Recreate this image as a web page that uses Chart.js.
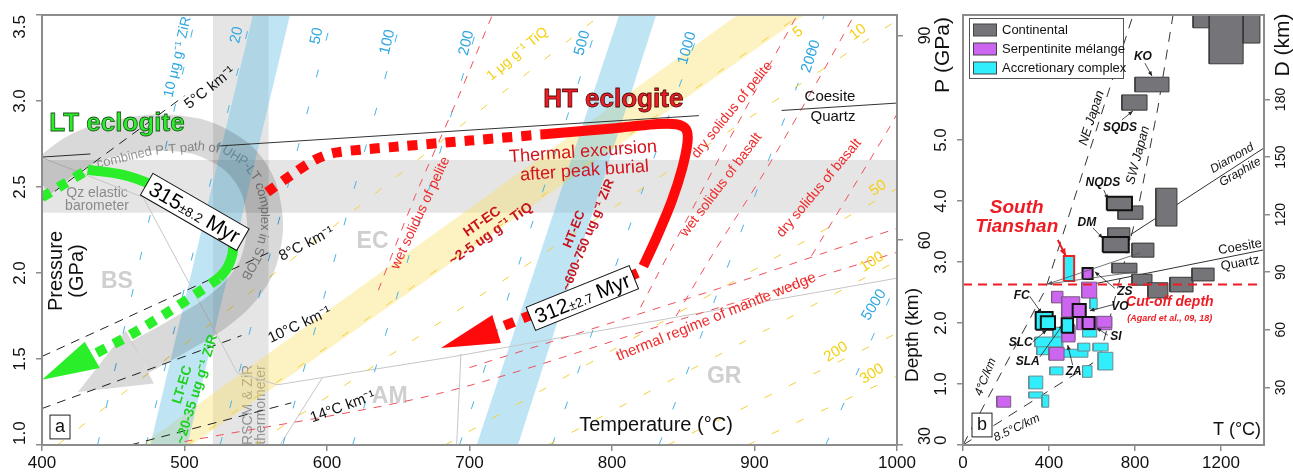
<!DOCTYPE html>
<html><head><meta charset="utf-8">
<script src="https://cdn.jsdelivr.net/npm/chart.js@4.4.1/dist/chart.umd.min.js"></script>
<style>
html,body{margin:0;padding:0;background:#fff;}
#wrap{position:relative;width:1293px;height:475px;overflow:hidden;background:#fff;}
canvas{position:absolute;left:0;top:0;}
</style></head>
<body><div id="wrap"><canvas id="ca" width="1293" height="475"></canvas><canvas id="cb" width="1293" height="475"></canvas></div>
<script>
const FONT = '"Liberation Sans", Arial, Helvetica, sans-serif';

// ================= DATA : panel a =================
const tempTicksA = [400, 500, 600, 700, 800, 900, 1000];
const pressTicksA = [1.0, 1.5, 2.0, 2.5, 3.0, 3.5];
const depthTicksA = [30, 60, 90];

const qzBaroBand = [[400, 2.35], [1000, 2.35], [1000, 2.657], [400, 2.657]];
const rscmBand = [[520, 1.0], [559, 1.0], [559, 3.5], [520, 3.5]];
const zirBandLT = [[476, 1.0], [502, 1.0], [574, 3.5], [548, 3.5]];
const zirBandHT = [[705, 1.0], [734, 1.0], [831, 3.5], [805, 3.5]];
const tiqBandHT = [[470, 1.0], [505, 1.0], [935, 3.5], [888, 3.5]];

const zirLevels = [10, 20, 50, 100, 200, 500, 1000, 2000, 5000];
const zirTat1GPa = [439, 473, 525, 569, 618, 693, 758, 833, 950];
const zirTat35GPa = [508, 547, 604, 653, 708, 792, 865, 949, 1081];

const tiqLevels = [1, 5, 10, 50, 100, 200, 300];
const tiqFrom = [[411, 1.0], [502, 1.0], [549, 1.0], [683, 1.0], [755, 1.0], [839, 1.0], [895, 1.0]];
const tiqTo = [[792, 3.5], [932, 3.5], [1000, 3.47], [1000, 2.49], [1000, 2.07], [1000, 1.65], [1000, 1.40]];

const geothermRates = [5, 8, 10, 14];
const geothermFrom = [[400, 2.42], [400, 1.515], [400, 1.212], [462, 1.0]];
const geothermTo = [[500, 3.03], [563, 2.133], [540, 1.636], [575, 1.245]];

const coesiteQuartzA = [[[400, 2.674], [434, 2.692]], [[525, 2.739], [861, 2.915]], [[919, 2.945], [1000, 2.988]]];
const faciesBoundaries = [
  [[400, 2.67], [471, 2.44], [537, 1.42]],
  [[537, 1.42], [565, 1.35], [686, 1.51], [1000, 1.97]],
  [[597, 1.395], [567, 1.0]],
  [[694, 1.53], [691, 1.0]]
];
const wetPeliteSolidus = [[636, 1.9], [662, 2.45], [691, 3.0], [716, 3.5]];
const dryPeliteSolidus = [[820, 1.8], [832, 1.99], [898, 3.02], [930, 3.5]];
const wetBasaltSolidus = [[845, 1.75], [870, 2.1], [908, 2.6], [950, 3.2], [970, 3.5]];
const dryBasaltSolidus = [[940, 2.1], [995, 2.85], [1005, 3.0]];
const mantleWedgeLow = [[500, 1.02], [679, 1.30], [852, 1.74], [1000, 2.12]];
const mantleWedgeHigh = [[700, 1.45], [875, 1.91], [950, 2.12], [1000, 2.26]];

const uhpCombinedPath = [[398, 2.54], [426.6, 2.715], [461.7, 2.80], [496.7, 2.81], [524.7, 2.74], [545.8, 2.59], [555.6, 2.37], [554.2, 2.13], [544.4, 1.95], [524.7, 1.785], [496.7, 1.64], [468.7, 1.51]];
const uhpCombinedHead = [[478.5, 1.357], [458.9, 1.666], [425.2, 1.308]];

const ltProgradeDotted = [[400, 2.44], [416, 2.52], [432, 2.60]];
const ltPeakSolid = [[432, 2.60], [457, 2.57], [478, 2.51], [500, 2.43], [520, 2.33], [532, 2.22], [534, 2.13], [530, 2.03], [524, 1.97]];
const ltRetroDotted = [[524, 1.97], [512, 1.90], [488, 1.77], [462, 1.64], [436, 1.525]];
const ltArrowHead = [[430, 1.60], [440.6, 1.448], [400, 1.38]];

const htProgradeDotted = [[558, 2.47], [575, 2.57], [592, 2.66], [606, 2.70], [650, 2.735], [700, 2.77], [750, 2.805]];
const htExcursionSolid = [[750, 2.805], [800, 2.84], [830, 2.865], [845, 2.865], [852, 2.835], [853, 2.76], [849, 2.6], [842, 2.42], [832, 2.22], [822, 2.04]];
const htRetroDotted = [[818, 2.0], [790, 1.90], [760, 1.81], [740, 1.745], [719, 1.675]];
const htArrowHead = [[716, 1.756], [722, 1.593], [680, 1.564]];

// ================= DATA : panel b =================
const tempTicksB = [0, 400, 800, 1200];
const pressTicksB = [0, 1, 2, 3, 4, 5];
const depthTicksB = [30, 60, 90, 120, 150, 180];

const continentalBoxes = [
  [800, 958, 5.79, 6.03], [739, 856, 5.49, 5.74], [721, 837, 3.70, 3.92], [669, 786, 3.85, 4.07],
  [897, 995, 3.59, 4.21], [1070, 1205, 6.84, 7.05], [1145, 1303, 6.25, 7.05], [1303, 1381, 6.59, 7.05],
  [673, 776, 3.36, 3.56], [786, 888, 3.08, 3.31], [650, 771, 3.16, 3.41], [693, 809, 2.82, 2.98],
  [786, 879, 2.62, 2.80], [860, 953, 2.41, 2.66], [962, 1070, 2.51, 2.75], [1065, 1168, 2.69, 2.90]
];
const continentalOutlined = [3, 10];
const serpentiniteBoxes = [
  [552, 622, 2.41, 2.67], [412, 465, 2.33, 2.52], [459, 543, 2.10, 2.43], [530, 692, 1.89, 2.10],
  [622, 692, 1.93, 2.11], [459, 521, 1.69, 1.97], [400, 470, 1.39, 1.60], [157, 222, 0.62, 0.80],
  [556, 603, 2.72, 2.90], [510, 571, 2.10, 2.31], [556, 612, 1.90, 2.10]
];
const serpentiniteOutlined = [8, 9, 10];
const accretionaryBoxes = [
  [590, 624, 2.23, 2.41], [556, 622, 1.77, 1.93], [343, 465, 1.48, 1.72], [418, 521, 1.72, 1.93],
  [464, 581, 1.44, 1.57], [534, 590, 1.54, 1.67], [605, 675, 1.54, 1.67], [628, 697, 1.23, 1.52],
  [404, 465, 1.15, 1.28], [556, 600, 1.11, 1.30], [306, 371, 0.92, 1.13], [306, 371, 0.77, 0.87],
  [367, 399, 0.62, 0.82], [334, 459, 1.61, 1.77], [338, 417, 1.89, 2.18], [362, 428, 1.90, 2.11],
  [459, 512, 1.84, 2.08], [469, 517, 2.69, 3.10]
];
const accretionaryOutlined = [14, 15, 16];
const southTianshanIndex = 17;

const neJapanGeotherm = [[0, 0], [382, 2.54], [791, 7.05]];
const swJapanGeotherm = [[0, 0], [633, 1.41], [762, 3.15], [810, 3.8], [907, 5.54], [977, 7.05]];
const diamondGraphiteB = [[780, 3.45], [1400, 4.87]];
const coesiteQuartzB = [[620, 2.65], [1400, 3.2]];
const cutoffDepth = [[0, 2.63], [1400, 2.63]];
const pointerLinesB = [[[823, 3.15], [394, 2.64]], [[809, 2.84], [394, 2.64]]];
const labelArrowsB = [
  [[846, 6.26], [879, 6.05]], [[739, 5.33], [790, 5.475]], [[655, 4.18], [674, 4.03]], [[604, 3.56], [650, 3.39]],
  [[706, 2.57], [613, 2.84]], [[697, 2.30], [590, 2.20]], [[674, 1.80], [622, 1.92]], [[310, 2.44], [366, 2.16]],
  [[324, 1.69], [389, 1.885]], [[357, 1.44], [464, 1.97]], [[510, 1.31], [487, 1.64]]
];
const tianshanArrow = [[441, 3.36], [478, 3.10]];

// ================= helpers =================
const P = a => a.map(([x, y]) => ({x, y}));
function lineDS(arr, color, width, dash, extra) {
  return Object.assign({data: P(arr), borderColor: color, borderWidth: width, borderDash: dash || [],
    pointRadius: 0, pointHoverRadius: 0, fill: false, clip: 0, tension: 0, borderCapStyle: 'butt', borderJoinStyle: 'round'}, extra || {});
}
function polyDS(arr, bg, bc, bw) {
  return {data: P(arr.concat([arr[0]])), backgroundColor: bg, borderColor: bc || 'rgba(0,0,0,0)', borderWidth: bw || 0,
    pointRadius: 0, pointHoverRadius: 0, fill: 'shape', clip: 0, tension: 0, borderJoinStyle: 'miter'};
}
function boxPoly(b) { return [[b[0], b[2]], [b[1], b[2]], [b[1], b[3]], [b[0], b[3]]]; }
function ordered(list) { list.forEach((d, i) => d.order = -i); return list; }

function axisCfg(min, max, ticks, pos, size) {
  return {
    type: 'linear', min, max, position: pos,
    afterBuildTicks: ax => { ax.ticks = ticks.map(v => ({value: v})); },
    afterFit: ax => { if (pos === 'bottom') ax.height = size; else ax.width = size; },
    ticks: {display: false},
    grid: {drawOnChartArea: false, drawTicks: true, tickLength: 6, color: '#8c8c8c', lineWidth: 1.5},
    border: {display: true, color: '#8c8c8c', width: 2}
  };
}

function drawText(ctx, a, x, y) {
  ctx.save();
  ctx.translate(x, y);
  if (a.rot) ctx.rotate(a.rot * Math.PI / 180);
  ctx.font = (a.w ? a.w + ' ' : '') + a.s + 'px ' + FONT;
  ctx.textAlign = a.align || 'center';
  ctx.textBaseline = 'middle';
  const lines = a.t.split('\n');
  const lh = a.lh || a.s * 1.1;
  if (a.box) {
    const wmax = Math.max(...lines.map(l => ctx.measureText(l).width));
    const bw = Math.max(wmax + 8, a.box), bh = lines.length * lh + 4;
    ctx.fillStyle = '#fff'; ctx.fillRect(-bw / 2, -bh / 2, bw, bh);
    ctx.strokeStyle = '#222'; ctx.lineWidth = 1; ctx.strokeRect(-bw / 2, -bh / 2, bw, bh);
  }
  lines.forEach((ln, i) => {
    const yy = (i - (lines.length - 1) / 2) * lh;
    ctx.fillStyle = a.c || '#000';
    ctx.fillText(ln, 0, yy);
    if (a.stroke) { ctx.lineWidth = a.sw || 1; ctx.strokeStyle = a.stroke; ctx.strokeText(ln, 0, yy); }
  });
  ctx.restore();
}
function drawAge(ctx, a, x, y) {
  ctx.save();
  ctx.translate(x, y);
  ctx.rotate(a.rot * Math.PI / 180);
  let W = 0;
  const ws = a.parts.map(([t, s]) => { ctx.font = s + 'px ' + FONT; const w = ctx.measureText(t).width; W += w; return w; });
  const H = 25, pad = 5;
  ctx.fillStyle = '#fff'; ctx.fillRect(-W / 2 - pad, -H / 2, W + 2 * pad, H);
  ctx.strokeStyle = '#111'; ctx.lineWidth = 1; ctx.strokeRect(-W / 2 - pad, -H / 2, W + 2 * pad, H);
  ctx.fillStyle = '#000'; ctx.textAlign = 'left'; ctx.textBaseline = 'alphabetic';
  let cx = -W / 2;
  a.parts.forEach(([t, s], i) => { ctx.font = s + 'px ' + FONT; ctx.fillText(t, cx, 7.5); cx += ws[i]; });
  ctx.restore();
}
function drawPathText(ctx, chart, a) {
  const sx = chart.scales.x, sy = chart.scales.y;
  const pts = a.pts.map(([x, y]) => [sx.getPixelForValue(x), sy.getPixelForValue(y)]);
  const segs = []; let tot = 0;
  for (let i = 1; i < pts.length; i++) {
    const dx = pts[i][0] - pts[i - 1][0], dy = pts[i][1] - pts[i - 1][1], L = Math.hypot(dx, dy);
    segs.push({x0: pts[i - 1][0], y0: pts[i - 1][1], dx, dy, L, st: tot}); tot += L;
  }
  ctx.save();
  ctx.font = a.s + 'px ' + FONT; ctx.fillStyle = a.c; ctx.textAlign = 'center'; ctx.textBaseline = 'middle';
  let d = 0;
  for (const ch of a.t) {
    const w = ctx.measureText(ch).width, mid = d + w / 2;
    const s = segs.find(g => mid <= g.st + g.L) || segs[segs.length - 1];
    const t = (mid - s.st) / s.L;
    ctx.save();
    ctx.translate(s.x0 + s.dx * t, s.y0 + s.dy * t);
    ctx.rotate(Math.atan2(s.dy, s.dx));
    ctx.fillText(ch, 0, 0);
    ctx.restore();
    d += w;
  }
  ctx.restore();
}
function drawAnnotations(chart, items) {
  const ctx = chart.ctx, sx = chart.scales.x, sy = chart.scales.y;
  items.forEach(a => {
    if (a.type === 'path') { drawPathText(ctx, chart, a); return; }
    const x = a.px ? a.x : sx.getPixelForValue(a.x);
    const y = a.px ? a.y : sy.getPixelForValue(a.y);
    if (a.type === 'age') drawAge(ctx, a, x, y); else drawText(ctx, a, x, y);
  });
}
function drawTickLabels(chart, specs) {
  const ctx = chart.ctx, {top, bottom} = chart.chartArea;
  ctx.save(); ctx.fillStyle = '#111'; ctx.textAlign = 'center'; ctx.textBaseline = 'middle';
  specs.forEach(s => {
    const sc = chart.scales[s.axis];
    ctx.font = s.size + 'px ' + FONT;
    s.values.forEach(v => {
      const lab = s.fmt(v);
      let p = sc.getPixelForValue(v);
      const half = ctx.measureText(lab).width / 2;
      ctx.save();
      if (s.axis === 'x') { ctx.translate(p, s.pos); }
      else { p = Math.min(Math.max(p, top + half), bottom - half); ctx.translate(s.pos, p); ctx.rotate(-Math.PI / 2); }
      ctx.fillText(lab, 0, 0);
      ctx.restore();
    });
  });
  ctx.restore();
}
function frame(chart) {
  const ctx = chart.ctx, a = chart.chartArea;
  ctx.save(); ctx.strokeStyle = '#8c8c8c'; ctx.lineWidth = 2;
  ctx.strokeRect(a.left, a.top, a.right - a.left, a.bottom - a.top); ctx.restore();
}

// ================= panel a datasets =================
const blueDash = '#45b4e6', yellowDash = '#f2d03a', redDash = '#f0505a';
const dsA = [];
dsA.push(polyDS(qzBaroBand, 'rgba(0,0,0,0.10)'));
dsA.push(polyDS(rscmBand, 'rgba(0,0,0,0.10)'));
dsA.push(polyDS(tiqBandHT, 'rgba(250,222,95,0.38)'));
dsA.push(polyDS(zirBandLT, 'rgba(95,190,230,0.40)'));
dsA.push(polyDS(zirBandHT, 'rgba(95,190,230,0.40)'));
faciesBoundaries.forEach(l => dsA.push(lineDS(l, '#c6c6c6', 1)));
zirLevels.forEach((lv, i) => dsA.push(lineDS([[zirTat1GPa[i], 1.0], [zirTat35GPa[i], 3.5]], blueDash, 1, [8, 30])));
tiqLevels.forEach((lv, i) => dsA.push(lineDS([tiqFrom[i], tiqTo[i]], yellowDash, 1, [8, 19])));
geothermRates.forEach((g, i) => dsA.push(lineDS([geothermFrom[i], geothermTo[i]], '#222', 1, [9, 7])));
[wetPeliteSolidus, dryPeliteSolidus, wetBasaltSolidus, dryBasaltSolidus, mantleWedgeLow, mantleWedgeHigh]
  .forEach(l => dsA.push(lineDS(l, redDash, 1, [8, 8], {tension: 0.3})));
coesiteQuartzA.forEach(l => dsA.push(lineDS(l, '#333', 1)));
dsA.push(lineDS(uhpCombinedPath, 'rgba(0,0,0,0.15)', 36, [], {tension: 0.4}));
dsA.push(polyDS(uhpCombinedHead, 'rgba(0,0,0,0.15)'));
const green = '#2aee2a', red = '#ff0a0a';
dsA.push(lineDS(ltProgradeDotted, green, 10, [10, 9], {tension: 0.3}));
dsA.push(lineDS(ltPeakSolid, green, 10, [], {tension: 0.4}));
dsA.push(lineDS(ltRetroDotted, green, 10, [10, 9], {tension: 0.3}));
dsA.push(polyDS(ltArrowHead, green));
dsA.push(lineDS(htProgradeDotted, red, 10, [10, 9], {tension: 0.3}));
dsA.push(lineDS(htExcursionSolid, red, 10, [], {tension: 0.35}));
dsA.push(lineDS(htRetroDotted, red, 10, [10, 9], {tension: 0.3}));
dsA.push(polyDS(htArrowHead, red));
ordered(dsA);

const blueTxt = '#2ea6df', yelTxt = '#f5cf10', redTxt = '#ee2a2a', dkRed = '#c8141e';
const annA = [
  {t: 'BS', x: 452.6, y: 1.948, s: 23, w: 'bold', c: '#cfcfcf', layer: 'below'},
  {t: 'EC', x: 632, y: 2.18, s: 23, w: 'bold', c: '#cfcfcf', layer: 'below'},
  {t: 'AM', x: 644, y: 1.279, s: 23, w: 'bold', c: '#cfcfcf', layer: 'below'},
  {t: 'GR', x: 878.7, y: 1.395, s: 23, w: 'bold', c: '#cfcfcf', layer: 'below'},
  {t: 'Qz elastic\nbarometer', x: 438.6, y: 2.424, s: 14, c: '#9a9a9a', lh: 13, layer: 'below'},
  {t: 'RSCM & ZiR\nthermometer', x: 549.3, y: 1.233, s: 14, c: '#a3a3a3', rot: -90, lh: 13, layer: 'below'},
  {type: 'path', t: 'combined P-T path of UHP-LT complex in STOB', s: 13, c: '#9a9a9a', layer: 'below',
   pts: [[438.6, 2.63], [475.7, 2.705], [510.7, 2.735], [528.3, 2.715], [542.3, 2.645], [551.4, 2.541], [556.3, 2.395], [556.3, 2.25], [551.4, 2.105], [542.3, 1.971]]},
  {t: '10 μg g⁻¹ ZiR', x: 495.3, y: 3.256, s: 14, c: blueTxt, rot: -77},
  {t: '20', x: 536.7, y: 3.384, s: 15, c: blueTxt, rot: -77},
  {t: '50', x: 592.8, y: 3.378, s: 15, c: blueTxt, rot: -77},
  {t: '100', x: 642.5, y: 3.343, s: 15, c: blueTxt, rot: -76},
  {t: '200', x: 697.9, y: 3.337, s: 15, c: blueTxt, rot: -76},
  {t: '500', x: 779.2, y: 3.337, s: 15, c: blueTxt, rot: -75},
  {t: '1000', x: 852.8, y: 3.308, s: 15, c: blueTxt, rot: -74},
  {t: '2000', x: 939.7, y: 3.26, s: 15, c: blueTxt, rot: -72},
  {t: '5000', x: 983.9, y: 1.814, s: 15, c: blueTxt, rot: -58},
  {t: '1 μg g⁻¹ TiQ', x: 733.6, y: 3.273, s: 14, c: yelTxt, rot: -40},
  {t: '5', x: 930.6, y: 3.40, s: 15, c: yelTxt, rot: -38},
  {t: '10', x: 972.6, y: 3.40, s: 15, c: yelTxt, rot: -38},
  {t: '50', x: 986.7, y: 2.494, s: 15, c: yelTxt, rot: -35},
  {t: '100', x: 982.5, y: 2.064, s: 15, c: yelTxt, rot: -33},
  {t: '200', x: 957.2, y: 1.541, s: 15, c: yelTxt, rot: -33},
  {t: '300', x: 982.5, y: 1.413, s: 15, c: yelTxt, rot: -33},
  {t: '5°C km⁻¹', x: 517.8, y: 3.076, s: 15, c: '#111', rot: -38},
  {t: '8°C km⁻¹', x: 585.7, y: 2.169, s: 15, c: '#111', rot: -27},
  {t: '10°C km⁻¹', x: 580.8, y: 1.698, s: 15, c: '#111', rot: -25},
  {t: '14°C km⁻¹', x: 611, y: 1.221, s: 15, c: '#111', rot: -20},
  {t: 'LT-EC\n~20-35 ug g⁻¹ ZiR', x: 503.7, y: 1.337, s: 14, w: 'bold', c: '#22d022', rot: -73, lh: 15},
  {t: 'HT-EC\n~2-5 ug g⁻¹ TiQ', x: 711.9, y: 2.262, s: 14, w: 'bold', c: dkRed, rot: -35, lh: 15},
  {t: 'HT-EC\n~600-750 ug g⁻¹ ZiR', x: 778.5, y: 2.238, s: 13, w: 'bold', c: dkRed, rot: -68, lh: 15},
  {t: 'wet solidus of pelite', x: 665.6, y: 2.349, s: 14, c: redTxt, rot: -65},
  {t: 'dry solidus of pelite', x: 884.3, y: 2.948, s: 14, c: redTxt, rot: -51},
  {t: 'wet solidus of basalt', x: 876.6, y: 2.512, s: 14, c: redTxt, rot: -53},
  {t: 'dry solidus of basalt', x: 945.3, y: 2.494, s: 14, c: redTxt, rot: -50},
  {t: 'thermal regime of mantle wedge', x: 873.1, y: 1.744, s: 15, c: redTxt, rot: -22},
  {t: 'Coesite', x: 953, y: 3.023, s: 15, c: '#111'},
  {t: 'Quartz', x: 955.1, y: 2.907, s: 15, c: '#111'},
  {t: 'LT eclogite', x: 452.6, y: 2.866, s: 26, w: 'bold', c: green, stroke: '#1f4f1f', sw: 0.8},
  {t: 'HT eclogite', x: 800.9, y: 3.006, s: 26, w: 'bold', c: '#ee1c24', stroke: '#4a0a0a', sw: 0.8},
  {t: 'Thermal excursion\nafter peak burial', x: 780.2, y: 2.648, s: 18, c: '#d2141e', rot: -4, lh: 19},
  {type: 'age', x: 507.2, y: 2.355, rot: 30, parts: [['315', 21], ['±8.2', 13], [' Myr', 21]]},
  {type: 'age', x: 779.2, y: 1.855, rot: -22, parts: [['312', 21], ['±2.7', 13], [' Myr', 21]]},
  {t: 'Pressure', x: 56, y: 271, px: true, s: 20, c: '#111', rot: -90},
  {t: '(GPa)', x: 77, y: 271, px: true, s: 20, c: '#111', rot: -90},
  {t: 'Temperature (°C)', x: 656, y: 425, px: true, s: 20, c: '#111'},
  {t: 'a', x: 60, y: 427, px: true, s: 18, c: '#111', box: 20},
  {t: 'Depth (km)', x: 913, y: 335, px: true, s: 19, c: '#111', rot: -90}
];

const pluginA = {
  id: 'annA',
  beforeDatasetsDraw(chart) { drawAnnotations(chart, annA.filter(a => a.layer === 'below')); },
  afterDatasetsDraw(chart) { drawAnnotations(chart, annA.filter(a => a.layer !== 'below')); },
  afterDraw(chart) {
    frame(chart);
    drawTickLabels(chart, [
      {axis: 'x', values: tempTicksA, pos: 463, size: 17, fmt: v => String(v)},
      {axis: 'y', values: pressTicksA, pos: 20, size: 17, fmt: v => v.toFixed(1)},
      {axis: 'y2', values: depthTicksA, pos: 926, size: 16, fmt: v => String(v)}
    ]);
  }
};

new Chart(document.getElementById('ca'), {
  type: 'line',
  data: {datasets: dsA},
  options: {
    responsive: false, animation: false, devicePixelRatio: 1, events: [],
    layout: {padding: {left: 0, right: 358, top: 15, bottom: 0}},
    plugins: {legend: {display: false}, tooltip: {enabled: false}},
    scales: {
      x: axisCfg(400, 1000, tempTicksA, 'bottom', 30),
      y: axisCfg(1.0, 3.5, pressTicksA, 'left', 42),
      y2: axisCfg(30, 93, depthTicksA, 'right', 38)
    }
  },
  plugins: [pluginA]
});

// ================= panel b datasets =================
const contFill = '#747479', serpFill = '#cc66f0', accrFill = '#30eefc';
const dsB = [];
dsB.push(lineDS(neJapanGeotherm, '#333', 1, [10, 8]));
dsB.push(lineDS(swJapanGeotherm, '#333', 1, [10, 8]));
dsB.push(lineDS(diamondGraphiteB, '#333', 1));
dsB.push(lineDS(coesiteQuartzB, '#333', 1));
continentalBoxes.forEach((b, i) => { if (!continentalOutlined.includes(i)) dsB.push(polyDS(boxPoly(b), contFill, '#3a3a3a', 1)); });
continentalOutlined.forEach(i => dsB.push(polyDS(boxPoly(continentalBoxes[i]), contFill, '#111', 2)));
accretionaryBoxes.forEach((b, i) => { if (!accretionaryOutlined.includes(i) && i !== southTianshanIndex) dsB.push(polyDS(boxPoly(b), accrFill, '#6a8a90', 1)); });
serpentiniteBoxes.forEach((b, i) => { if (!serpentiniteOutlined.includes(i)) dsB.push(polyDS(boxPoly(b), serpFill, '#7a5a80', 1)); });
accretionaryOutlined.forEach(i => dsB.push(polyDS(boxPoly(accretionaryBoxes[i]), accrFill, '#111', 2)));
serpentiniteOutlined.forEach(i => dsB.push(polyDS(boxPoly(serpentiniteBoxes[i]), serpFill, '#111', 2)));
dsB.push(polyDS(boxPoly(accretionaryBoxes[southTianshanIndex]), accrFill, '#ee2020', 2));
pointerLinesB.forEach(l => dsB.push(lineDS(l, '#555', 0.8)));
labelArrowsB.forEach(l => dsB.push(lineDS(l, '#222', 0.8)));
dsB.push(lineDS(tianshanArrow, '#ee1c24', 2));
dsB.push(lineDS(cutoffDepth, '#ee1c24', 2, [9, 6]));
ordered(dsB);

const annB = [
  {t: 'South', x: 250, y: 3.885, s: 19, w: 'bold italic', c: '#ee1c24'},
  {t: 'Tianshan', x: 250, y: 3.574, s: 19, w: 'bold italic', c: '#ee1c24'},
  {t: 'Cut-off depth', x: 962, y: 2.34, s: 14, w: 'bold italic', c: '#ee1c24'},
  {t: '(Agard et al., 09, 18)', x: 962, y: 2.08, s: 9, w: 'bold italic', c: '#ee1c24'},
  {t: 'KO', x: 837, y: 6.36, s: 12, w: 'bold italic', c: '#111'},
  {t: 'SQDS', x: 730, y: 5.21, s: 12, w: 'bold italic', c: '#111'},
  {t: 'NQDS', x: 650.6, y: 4.295, s: 12, w: 'bold italic', c: '#111'},
  {t: 'DM', x: 576, y: 3.64, s: 12, w: 'bold italic', c: '#111'},
  {t: 'ZS', x: 752.8, y: 2.51, s: 12, w: 'bold italic', c: '#111'},
  {t: 'VO', x: 729.5, y: 2.26, s: 12, w: 'bold italic', c: '#111'},
  {t: 'SI', x: 711, y: 1.77, s: 12, w: 'bold italic', c: '#111'},
  {t: 'FC', x: 273, y: 2.44, s: 12, w: 'bold italic', c: '#111'},
  {t: 'SLC', x: 268.6, y: 1.67, s: 12, w: 'bold italic', c: '#111'},
  {t: 'SLA', x: 301, y: 1.36, s: 12, w: 'bold italic', c: '#111'},
  {t: 'ZA', x: 515, y: 1.20, s: 12, w: 'bold italic', c: '#111'},
  {t: 'NE Japan', x: 599, y: 5.36, s: 13, w: 'italic', c: '#111', rot: -72},
  {t: 'SW Japan', x: 814, y: 4.75, s: 13, w: 'italic', c: '#111', rot: -75},
  {t: '4°C/km', x: 105, y: 1.115, s: 12, w: 'italic', c: '#111', rot: -68},
  {t: '8.5°C/km', x: 250, y: 0.28, s: 12, w: 'italic', c: '#111', rot: -25},
  {t: 'Diamond', x: 1252, y: 4.70, s: 12, w: 'italic', c: '#111', rot: -30},
  {t: 'Graphite', x: 1289, y: 4.475, s: 12, w: 'italic', c: '#111', rot: -30},
  {t: 'Coesite', x: 1289, y: 3.246, s: 13, c: '#111', rot: -10},
  {t: 'Quartz', x: 1289, y: 2.98, s: 13, c: '#111', rot: -10},
  {t: 'T (°C)', x: 1237, y: 430, px: true, s: 18, c: '#111'},
  {t: 'b', x: 982, y: 425, px: true, s: 18, c: '#111', box: 20},
  {t: 'P (GPa)', x: 943, y: 55, px: true, s: 21, c: '#111', rot: -90},
  {t: 'D (km)', x: 1283, y: 45, px: true, s: 21, c: '#111', rot: -90}
];
const legendB = [['Continental', contFill], ['Serpentinite mélange', serpFill], ['Accretionary complex', accrFill]];

function drawArrowHeads(chart, list, color, size) {
  const ctx = chart.ctx, sx = chart.scales.x, sy = chart.scales.y;
  ctx.save(); ctx.fillStyle = color;
  list.forEach(([a, b]) => {
    const x1 = sx.getPixelForValue(a[0]), y1 = sy.getPixelForValue(a[1]);
    const x2 = sx.getPixelForValue(b[0]), y2 = sy.getPixelForValue(b[1]);
    const ang = Math.atan2(y2 - y1, x2 - x1);
    ctx.beginPath(); ctx.moveTo(x2, y2);
    ctx.lineTo(x2 - size * Math.cos(ang - 0.4), y2 - size * Math.sin(ang - 0.4));
    ctx.lineTo(x2 - size * Math.cos(ang + 0.4), y2 - size * Math.sin(ang + 0.4));
    ctx.closePath(); ctx.fill();
  });
  ctx.restore();
}

const pluginB = {
  id: 'annB',
  afterDatasetsDraw(chart) {
    drawArrowHeads(chart, labelArrowsB, '#222', 5);
    drawArrowHeads(chart, pointerLinesB, '#555', 5);
    drawArrowHeads(chart, [tianshanArrow], '#ee1c24', 8);
    drawAnnotations(chart, annB);
    const ctx = chart.ctx;
    ctx.save();
    ctx.fillStyle = '#fff'; ctx.fillRect(969, 18, 154, 60);
    ctx.strokeStyle = '#555'; ctx.lineWidth = 1; ctx.strokeRect(969.5, 18.5, 154, 60);
    ctx.font = '13px ' + FONT; ctx.textBaseline = 'middle'; ctx.textAlign = 'left';
    legendB.forEach(([name, col], i) => {
      const yc = 30 + i * 19;
      ctx.fillStyle = col; ctx.fillRect(973.5, yc - 6, 23, 12);
      ctx.strokeStyle = '#444'; ctx.strokeRect(973.5, yc - 6, 23, 12);
      ctx.fillStyle = '#111'; ctx.fillText(name, 1002, yc);
    });
    ctx.restore();
  },
  afterDraw(chart) {
    frame(chart);
    drawTickLabels(chart, [
      {axis: 'x', values: tempTicksB, pos: 463, size: 17, fmt: v => String(v)},
      {axis: 'y', values: pressTicksB, pos: 941, size: 17, fmt: v => v === 0 ? '0' : v.toFixed(1)},
      {axis: 'y2', values: depthTicksB, pos: 1281, size: 14, fmt: v => String(v)}
    ]);
  }
};

new Chart(document.getElementById('cb'), {
  type: 'line',
  data: {datasets: dsB},
  options: {
    responsive: false, animation: false, devicePixelRatio: 1, events: [],
    layout: {padding: {left: 935, right: 0, top: 15, bottom: 0}},
    plugins: {legend: {display: false}, tooltip: {enabled: false}},
    scales: {
      x: axisCfg(0, 1400, tempTicksB, 'bottom', 30),
      y: axisCfg(0, 7.05, pressTicksB, 'left', 28),
      y2: axisCfg(0, 224, depthTicksB, 'right', 29)
    }
  },
  plugins: [pluginB]
});
</script>
</body></html>
